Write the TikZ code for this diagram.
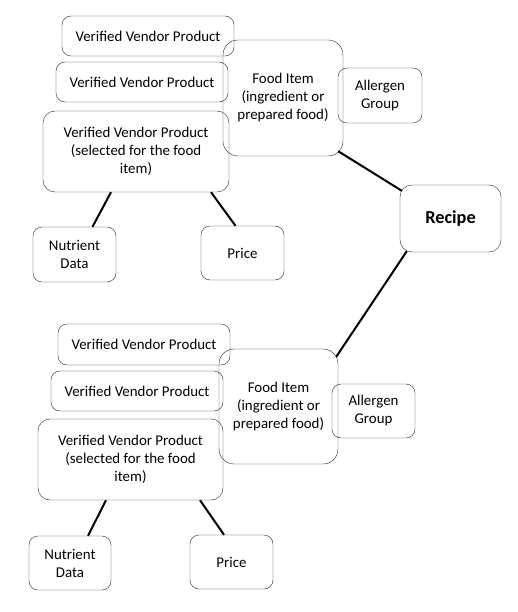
\documentclass[tikz,border=0pt]{standalone}
\usepackage{fontspec}
\setmainfont{Carlito}

\begin{document}
\begin{tikzpicture}[x=1pt, y=-1pt,
    box/.style={draw=black!85, rounded corners=9pt, align=center, inner sep=2pt,
      font=\fontsize{14.9}{18}\selectfont},
    link/.style={line width=2pt}]
    \useasboundingbox (0,0) rectangle (518,612);

    \node[box, minimum width=172pt, minimum height=40pt] (vvpA1) at (148, 36) {Verified Vendor Product};
    \node[box, minimum width=172pt, minimum height=40pt] (vvpA2) at (142, 82) {Verified Vendor Product};
    \node[box, minimum width=186pt, minimum height=81pt, rounded corners=12pt] (selA) at (136, 151.5) {Verified Vendor Product\\(selected for the food\\item)};
    \node[box, minimum width=120pt, minimum height=116pt, rounded corners=15pt] (foodA) at (283, 98) {Food Item\\(ingredient or\\prepared food)};
    \node[box, minimum width=84pt, minimum height=55pt] (allA) at (380, 95.5) {Allergen\\Group};
    \node[box, minimum width=83pt, minimum height=55pt] (nutA) at (74.5, 254.5) {Nutrient\\Data};
    \node[box, minimum width=83pt, minimum height=54pt] (priceA) at (242.5, 253) {Price};

    \node[box, minimum width=101pt, minimum height=67pt, rounded corners=12pt, font=\fontsize{18.3}{20}\selectfont\bfseries] (recipe) at (450.5, 218.5) {Recipe};

    \node[box, minimum width=172pt, minimum height=41pt] (vvpB1) at (144, 344.5) {Verified Vendor Product};
    \node[box, minimum width=172pt, minimum height=40pt] (vvpB2) at (137, 391) {Verified Vendor Product};
    \node[box, minimum width=185pt, minimum height=81pt, rounded corners=12pt] (selB) at (130.5, 459.5) {Verified Vendor Product\\(selected for the food\\item)};
    \node[box, minimum width=119pt, minimum height=115pt, rounded corners=15pt] (foodB) at (278.5, 406.5) {Food Item\\(ingredient or\\prepared food)};
    \node[box, minimum width=83pt, minimum height=54pt] (allB) at (373.5, 411) {Allergen\\Group};
    \node[box, minimum width=82pt, minimum height=54pt] (nutB) at (70, 563) {Nutrient\\Data};
    \node[box, minimum width=83pt, minimum height=54pt] (priceB) at (231.5, 562) {Price};

    % 線を引く
    \draw[link] ([xshift=-25pt]selA.south) -- ([xshift=18pt]nutA.north);
    \draw[link] ([xshift=75pt]selA.south) -- ([xshift=-7pt]priceA.north);
    \draw[link] ([shift={(-5pt,5pt)}]foodA.south east) -- ([shift={(2pt,-6pt)}]recipe.north west);
    \draw[link] ([shift={(7pt,1pt)}]recipe.south west) -- ([shift={(-2pt,-8pt)}]foodB.north east);
    \draw[link] ([xshift=-24.5pt]selB.south) -- ([xshift=18pt]nutB.north);
    \draw[link] ([xshift=69.5pt]selB.south) -- ([xshift=-7.5pt]priceB.north);
\end{tikzpicture}
\end{document}
